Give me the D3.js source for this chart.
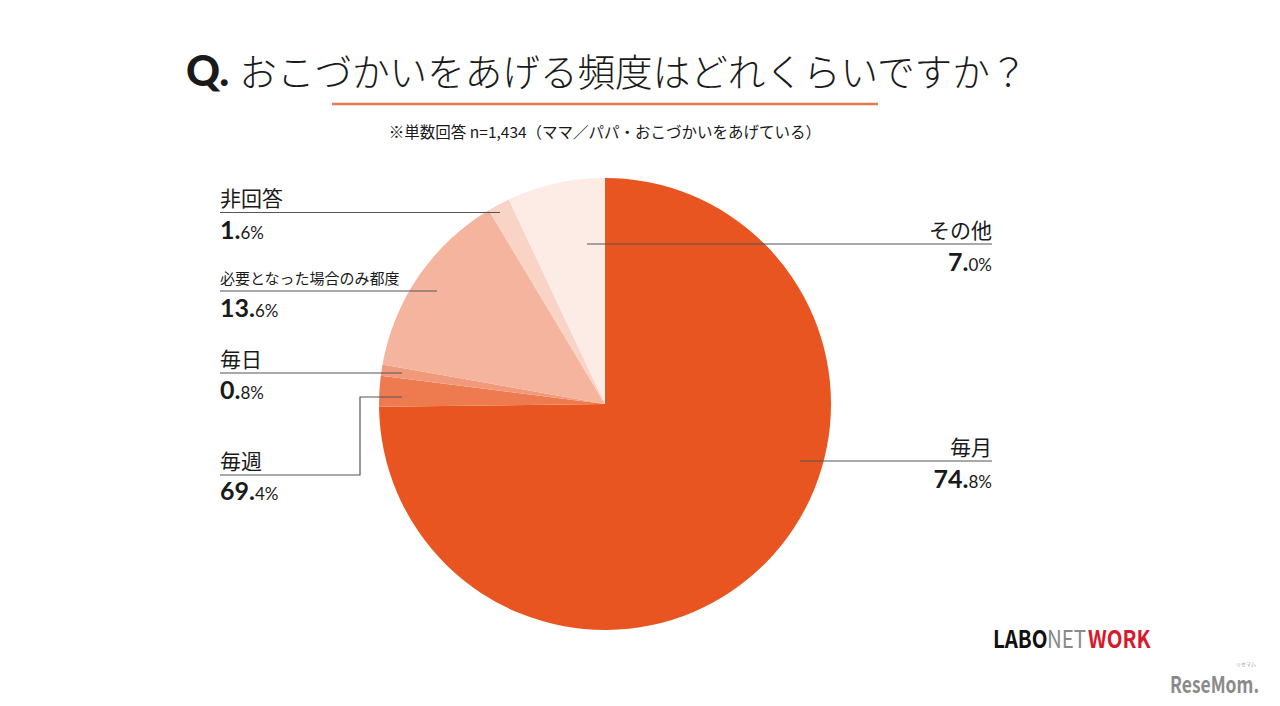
<!DOCTYPE html>
<html><head><meta charset="utf-8">
<script src="https://cdn.jsdelivr.net/npm/d3@7"></script>
<style>
html,body{margin:0;padding:0;background:#fff;}
svg{display:block;}
text{font-family:"Noto Sans CJK JP","Noto Sans",sans-serif;}
.num{font-family:Lato,"Open Sans",sans-serif;}
</style></head><body>
<svg id="c" width="1280" height="706"></svg>
<script>
// Data (clockwise from 12 o'clock)
const categories = ["毎月","毎週","毎日","必要となった場合のみ都度","非回答","その他"];
const values = [74.8, 2.2, 0.8, 13.6, 1.6, 7.0];
const labelInt = ["74.","69.","0.","13.","1.","7."];   // displayed text (as printed)
const labelDec = ["8%","4%","8%","6%","6%","0%"];
const colors = ["#E95520","#EE7B4F","#F19A7B","#F5B49D","#F9D4C6","#FDEBE5"];

const svg = d3.select("#c");
const cx = 605, cy = 404, R = 226;
const ink = "#1a1a1a";

// Title
const t = svg.append("text").attr("x",186).attr("y",86).attr("fill",ink);
t.append("tspan").attr("class","num").attr("font-size",42).attr("font-weight",900).attr("font-family","Lato,sans-serif").text("Q.");
t.append("tspan").attr("dx",10).attr("font-size",37.6).attr("font-weight",300).text("おこづかいをあげる頻度はどれくらいですか？");
svg.append("line").attr("x1",332).attr("x2",878).attr("y1",104).attr("y2",104)
  .attr("stroke","#E57A52").attr("stroke-width",2.5);
svg.append("text").attr("x",605).attr("y",138).attr("text-anchor","middle").attr("fill",ink)
  .attr("font-size",15.5).text("※単数回答 n=1,434（ママ／パパ・おこづかいをあげている）");

// Pie
const pie = d3.pie().sort(null).value(d=>d)(values);
const arc = d3.arc().innerRadius(0).outerRadius(R);
svg.append("g").attr("transform",`translate(${cx},${cy})`)
  .selectAll("path").data(pie).join("path")
  .attr("d",arc).attr("fill",(d,i)=>colors[i]);

// Leader lines and labels
const lines = [
  {i:0, pts:[[800,461],[992,461]], anchor:"end", lx:992, ly:455, py:488},
  {i:1, pts:[[402,397],[360,397],[360,475],[220,475]], anchor:"start", lx:220, ly:469, py:500},
  {i:2, pts:[[402,373],[220,373]], anchor:"start", lx:220, ly:367, py:399},
  {i:3, pts:[[437,291],[220,291]], anchor:"start", lx:220, ly:284, py:317, small:true},
  {i:4, pts:[[500,212.5],[220,212.5]], anchor:"start", lx:220, ly:206, py:239},
  {i:5, pts:[[587,244],[992,244]], anchor:"end", lx:992, ly:238, py:271}
];
const lg = d3.line();
lines.forEach(L=>{
  svg.append("path").attr("d",lg(L.pts)).attr("fill","none")
    .attr("stroke","#555").attr("stroke-width",1.2);
  svg.append("text").attr("x",L.lx).attr("y",L.ly).attr("text-anchor",L.anchor).attr("fill",ink)
    .attr("font-size",L.small?15:21).text(categories[L.i]);
  const p = svg.append("text").attr("class","num").attr("x",L.lx).attr("y",L.py).attr("text-anchor",L.anchor).attr("fill",ink);
  p.append("tspan").attr("font-size",25).attr("font-weight",700).text(labelInt[L.i]);
  p.append("tspan").attr("font-size",17).attr("font-weight",400).text(labelDec[L.i]);
});

// Logos (narrow fonts, stretched vertically)
const logoFont = "'Liberation Sans Narrow','DejaVu Sans Condensed',sans-serif";
[["LABO",993,700,"#111"],["NET",1047,400,"#8a8a8a"],["WORK",1088,700,"#D7192C"]].forEach(([s,x,fw,c])=>{
  svg.append("text").attr("transform",`translate(${x},648) scale(1,1.2)`).attr("font-family",logoFont)
    .attr("font-size",20.5).attr("font-weight",fw).attr("fill",c).text(s);
});
svg.append("text").attr("transform","translate(1170,693) scale(1,1.3)").attr("font-family","'DejaVu Sans Condensed',sans-serif")
  .attr("font-weight",700).attr("font-size",17.5).attr("fill","#8a8a8a").text("ReseMom.");
svg.append("text").attr("x",1246).attr("y",666).attr("font-size",5).attr("fill","#999").attr("text-anchor","middle").text("リセマム");
</script></body></html>
